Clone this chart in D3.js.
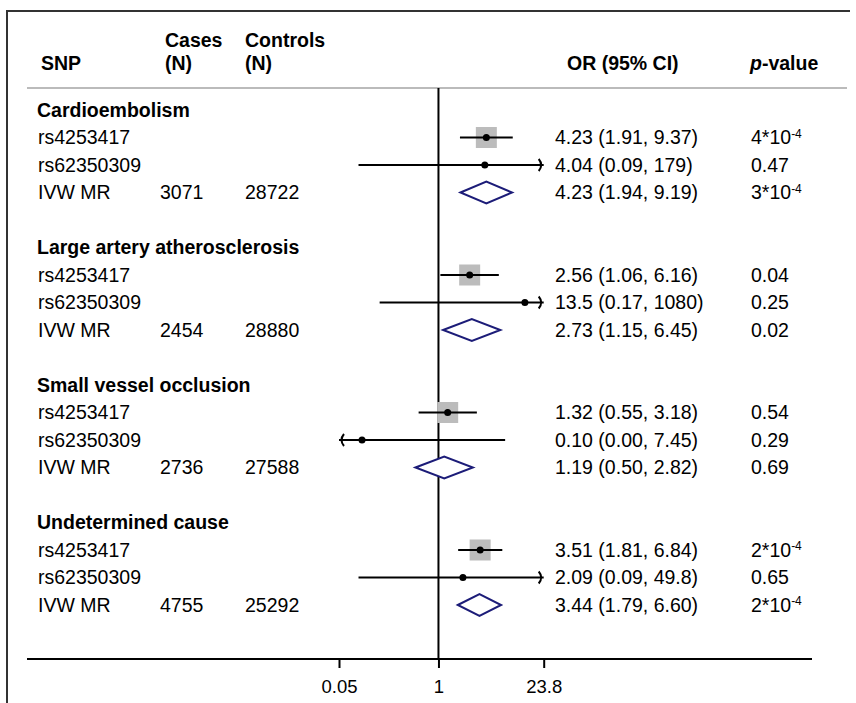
<!DOCTYPE html>
<html>
<head>
<meta charset="utf-8">
<script src="https://cdn.jsdelivr.net/npm/d3@7"></script>
<style>
body{margin:0;background:#fff;}
text{font-family:"Liberation Sans",Arial,sans-serif;fill:#000;}
</style>
</head>
<body>
<svg id="chart" width="856" height="703"></svg>
<script>
// data
var groups = ['Cardioembolism', 'Large artery atherosclerosis', 'Small vessel occlusion', 'Undetermined cause'];
var snps = ['rs4253417', 'rs62350309', 'IVW MR'];
var cases = [3071, 2454, 2736, 4755];
var controls = [28722, 28880, 27588, 25292];
var orEst = [[4.23, 4.04, 4.23], [2.56, 13.5, 2.73], [1.32, 0.10, 1.19], [3.51, 2.09, 3.44]];
var orLow = [[1.91, 0.09, 1.94], [1.06, 0.17, 1.15], [0.55, 0.00, 0.50], [1.81, 0.09, 1.79]];
var orHigh = [[9.37, 179, 9.19], [6.16, 1080, 6.45], [3.18, 7.45, 2.82], [6.84, 49.8, 6.60]];
var orText = [
	['4.23 (1.91, 9.37)', '4.04 (0.09, 179)', '4.23 (1.94, 9.19)'],
	['2.56 (1.06, 6.16)', '13.5 (0.17, 1080)', '2.73 (1.15, 6.45)'],
	['1.32 (0.55, 3.18)', '0.10 (0.00, 7.45)', '1.19 (0.50, 2.82)'],
	['3.51 (1.81, 6.84)', '2.09 (0.09, 49.8)', '3.44 (1.79, 6.60)']
];
// p-values: [mantissa, exponent] ; exponent null = plain number
var pVals = [
	[['4', '-4'], ['0.47', null], ['3', '-4']],
	[['0.04', null], ['0.25', null], ['0.02', null]],
	[['0.54', null], ['0.29', null], ['0.69', null]],
	[['2', '-4'], ['0.65', null], ['2', '-4']]
];
var xTicks = [0.05, 1, 23.8];

var svg = d3.select('#chart');
var fs = 19.5;

var x = d3.scaleLog().domain([0.05, 23.8]).range([339, 543.7]);
//row k -> y centre
var y = d3.scaleLinear().domain([0, 1]).range([110, 137.5]);

//frame
svg.append('path')
	.attr('d', 'M7,703V11H850')
	.attr('fill', 'none').attr('stroke', '#333').attr('stroke-width', 2);

//header
function txt(g, xx, yy, s, bold){
	return g.append('text').attr('x', xx).attr('y', yy).attr('dy', '0.35em')
		.style('font-size', fs + 'px').style('font-weight', bold ? 'bold' : 'normal').text(s);
}
var head = svg.append('g');
txt(head, 41, 63, 'SNP', true);
txt(head, 165, 40, 'Cases', true);
txt(head, 165, 63, '(N)', true);
txt(head, 245, 40, 'Controls', true);
txt(head, 245, 63, '(N)', true);
txt(head, 567, 63, 'OR (95% CI)', true);
var ph = txt(head, 750, 63, '', true);
ph.append('tspan').style('font-style', 'italic').text('p');
ph.append('tspan').text('-value');

svg.append('line').attr('x1', 27).attr('x2', 847).attr('y1', 88).attr('y2', 88)
	.attr('stroke', '#bbb').attr('stroke-width', 2);

//null line + axis
svg.append('line').attr('x1', x(1)).attr('x2', x(1)).attr('y1', 88).attr('y2', 659)
	.attr('stroke', '#000').attr('stroke-width', 2);
svg.append('line').attr('x1', 27).attr('x2', 812).attr('y1', 659).attr('y2', 659)
	.attr('stroke', '#000').attr('stroke-width', 2);

var axis = svg.append('g').attr('transform', 'translate(0,659)')
	.call(d3.axisBottom(x).tickValues(xTicks).tickFormat(function(d){ return String(d); })
		.tickSize(9).tickPadding(12));
axis.select('.domain').remove();
axis.selectAll('.tick line').attr('stroke', '#000').attr('stroke-width', 2);
axis.selectAll('.tick text').style('font-size', '18.5px').style('font-family', '"Liberation Sans",Arial,sans-serif').attr('fill', '#000');

//rows
var plot = svg.append('g');
groups.forEach(function(gName, gi){
	var base = gi * 5;
	txt(plot, 37, y(base), gName, true);
	snps.forEach(function(snp, si){
		var yy = y(base + 1 + si);
		txt(plot, 38, yy, snp, false);
		if(si == 2){
			txt(plot, 160, yy, String(cases[gi]), false);
			txt(plot, 245, yy, String(controls[gi]), false);
		}
		txt(plot, 555, yy, orText[gi][si], false);
		var p = pVals[gi][si];
		if(p[1] === null){
			txt(plot, 751, yy, p[0], false);
		}else{
			var t = txt(plot, 751, yy, '', false);
			t.append('tspan').text(p[0] + '*10');
			t.append('tspan').attr('dy', '-0.55em').style('font-size', '12px').text(p[1]);
		}

		var est = orEst[gi][si], lo = orLow[gi][si], hi = orHigh[gi][si];
		var d0 = x.domain();
		var clipLo = lo < d0[0], clipHi = hi > d0[1];
		var xl = x(Math.max(lo, d0[0])), xh = x(Math.min(hi, d0[1]));

		if(si == 2){ //pooled estimate -> diamond
			plot.append('path')
				.attr('d', 'M' + xl + ',' + yy + 'L' + x(est) + ',' + (yy - 11) + 'L' + xh + ',' + yy + 'L' + x(est) + ',' + (yy + 11) + 'Z')
				.attr('fill', '#fff').attr('stroke', '#1c1c78').attr('stroke-width', 2);
			return;
		}
		if(si == 0){ //weighted square
			plot.append('rect').attr('x', x(est) - 10.5).attr('y', yy - 10.5)
				.attr('width', 21).attr('height', 21).attr('fill', '#bcbcbc');
		}
		plot.append('line').attr('x1', xl).attr('x2', xh).attr('y1', yy).attr('y2', yy)
			.attr('stroke', '#000').attr('stroke-width', 2);
		if(clipHi){
			plot.append('path').attr('d', 'M' + (xh - 5) + ',' + (yy - 6) + 'Q' + xh + ',' + yy + ' ' + (xh - 5) + ',' + (yy + 6))
				.attr('fill', 'none').attr('stroke', '#000').attr('stroke-width', 2);
		}
		if(clipLo){
			plot.append('path').attr('d', 'M' + (xl + 5) + ',' + (yy - 6) + 'Q' + xl + ',' + yy + ' ' + (xl + 5) + ',' + (yy + 6))
				.attr('fill', 'none').attr('stroke', '#000').attr('stroke-width', 2);
		}
		plot.append('circle').attr('cx', x(est)).attr('cy', yy).attr('r', 3.5).attr('fill', '#000');
	});
});
</script>
</body>
</html>
